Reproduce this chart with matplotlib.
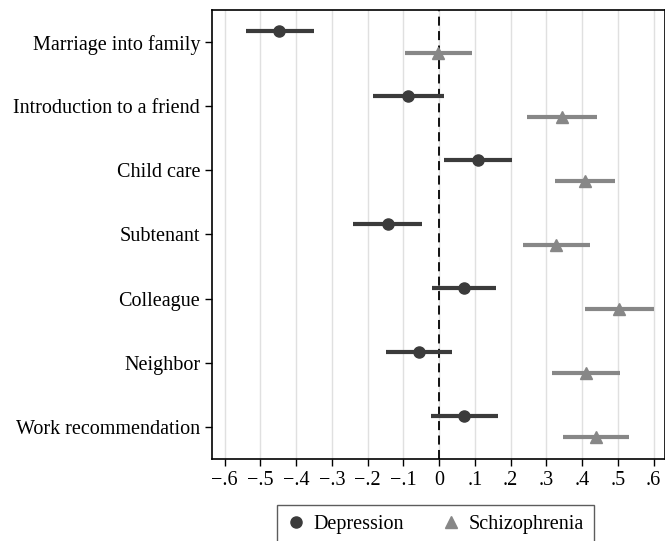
import numpy as np
import matplotlib.pyplot as plt

categories = ['Marriage into family', 'Introduction to a friend', 'Child care',
              'Subtenant', 'Colleague', 'Neighbor', 'Work recommendation']

dep_est = [-0.447, -0.087, 0.109, -0.144, 0.069, -0.057, 0.069]
dep_lo = [-0.539, -0.185, 0.014, -0.240, -0.021, -0.148, -0.023]
dep_hi = [-0.350, 0.013, 0.205, -0.048, 0.159, 0.036, 0.164]

sch_est = [-0.003, 0.344, 0.407, 0.328, 0.504, 0.410, 0.438]
sch_lo = [-0.094, 0.247, 0.323, 0.235, 0.408, 0.316, 0.348]
sch_hi = [0.092, 0.442, 0.491, 0.422, 0.600, 0.507, 0.532]

xticks = [-0.6, -0.5, -0.4, -0.3, -0.2, -0.1, 0, 0.1, 0.2, 0.3, 0.4, 0.5, 0.6]
xticklabels = ['\u2212.6', '\u2212.5', '\u2212.4', '\u2212.3', '\u2212.2', '\u2212.1', '0',
               '.1', '.2', '.3', '.4', '.5', '.6']

plt.rcParams['font.family'] = ['Liberation Serif', 'DejaVu Serif']

fig = plt.figure(figsize=(6.65, 5.41), dpi=100)
ax = fig.add_axes([0.3188, 0.1516, 0.6812, 0.8299])

y = np.arange(len(categories))
dep_col = '#3b3b3b'
sch_col = '#878787'

ax.hlines(y - 0.165, dep_lo, dep_hi, color=dep_col, lw=3, zorder=3)
ax.plot(dep_est, y - 0.165, 'o', color=dep_col, ms=8, zorder=4, label='Depression')
ax.hlines(y + 0.165, sch_lo, sch_hi, color=sch_col, lw=3, zorder=3)
ax.plot(sch_est, y + 0.165, '^', color=sch_col, ms=8.5, zorder=4, label='Schizophrenia')

ax.axvline(0, color='black', ls=(0, (5, 3)), lw=1.3, zorder=2)

ax.set_xlim(-0.635, 0.632)
ax.set_ylim(6.5, -0.5)
ax.set_xticks(xticks)
ax.set_xticklabels(xticklabels)
ax.set_yticks(y)
ax.set_yticklabels(categories)
ax.tick_params(labelsize=14.5, length=5, width=1, color='black')
ax.grid(axis='x', color='#e0e0e0', lw=1)
ax.set_axisbelow(True)
for s in ax.spines.values():
    s.set_linewidth(1.2)
    s.set_color('black')

fig.legend(loc='upper center', bbox_to_anchor=(0.655, 0.0665), ncol=2,
           frameon=True, fancybox=False, edgecolor='#333333', fontsize=14.5,
           handletextpad=0.4, columnspacing=1.9, borderpad=0.5, handlelength=0.9,
           borderaxespad=0)

fig.savefig('out.png', dpi=100)
